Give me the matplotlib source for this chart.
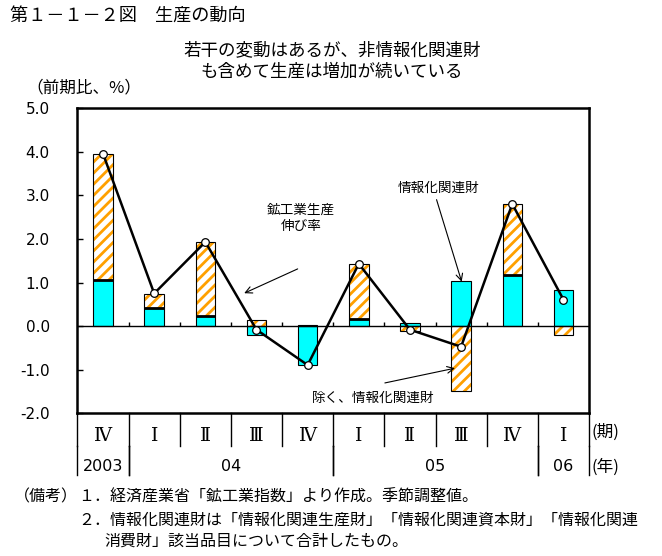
import matplotlib
matplotlib.use("Agg")
import matplotlib.pyplot as plt
import numpy as np

plt.rcParams['font.family'] = ['Noto Sans CJK JP', 'DejaVu Sans']
plt.rcParams['hatch.linewidth'] = 2.0

# ---- data ----
quarters = ["Ⅳ", "Ⅰ", "Ⅱ", "Ⅲ", "Ⅳ", "Ⅰ", "Ⅱ", "Ⅲ", "Ⅳ", "Ⅰ"]
years = ["2003", "04", "04", "04", "04", "05", "05", "05", "05", "06"]
it_goods = [1.06, 0.42, 0.24, -0.20, -0.89, 0.17, 0.07, 1.03, 1.18, 0.83]      # 情報化関連財
non_it = [2.89, 0.31, 1.69, 0.14, 0.02, 1.26, -0.11, -1.49, 1.62, -0.20]       # 除く、情報化関連財
production = [3.95, 0.75, 1.93, -0.08, -0.89, 1.43, -0.08, -0.47, 2.80, 0.61]  # 鉱工業生産伸び率
yticks = [5.0, 4.0, 3.0, 2.0, 1.0, 0.0, -1.0, -2.0]

CYAN = "#00FFFF"
ORANGE = "#FFA000"

fig = plt.figure(figsize=(6.62, 5.56), dpi=100)
ax = fig.add_axes([0.117, 0.2563, 0.7727, 0.5495])

x = np.arange(len(quarters))
w = 0.38
it = np.array(it_goods)
nit = np.array(non_it)
same = np.sign(it) == np.sign(nit)
bottoms = np.where(same, it, 0.0)

# cyan bars
ax.bar(x, it, width=w, color=CYAN, edgecolor="black", linewidth=0.8, zorder=2)
# hatched bars
ax.bar(x, nit, width=w, bottom=bottoms, color="white", edgecolor=ORANGE,
       hatch="///", linewidth=0, zorder=2)
ax.bar(x, nit, width=w, bottom=bottoms, color="none", edgecolor="black",
       linewidth=0.8, zorder=3)
# thick boundary between stacked segments
ax.hlines(it[same], x[same] - w / 2, x[same] + w / 2, colors="black",
          linewidth=2.0, zorder=4)

# zero line and its small ticks
ax.axhline(0, color="black", linewidth=1.0, zorder=3)
bounds = np.arange(len(quarters) + 1) - 0.5
ax.vlines(bounds[1:-1], 0, 0.1, colors="black", linewidth=1.0, zorder=3)

# production line
ax.plot(x, production, color="black", linewidth=1.8, zorder=5,
        marker="o", markersize=5.5, markerfacecolor="white",
        markeredgecolor="black", markeredgewidth=0.9)

ax.set_xlim(-0.5, len(quarters) - 0.5)
ax.set_ylim(-2.0, 5.0)
ax.set_yticks(yticks)
ax.set_yticklabels([f"{v:.1f}" for v in yticks], fontfamily="DejaVu Sans",
                   fontsize=11)
ax.tick_params(axis="y", direction="in", length=4.5, width=1.0, pad=20)
ax.set_xticks([])
for s in ax.spines.values():
    s.set_linewidth(1.8)

# table below axes
tr = ax.get_xaxis_transform()
row1 = -0.106
row2 = -0.201
for b in bounds:
    ax.plot([b, b], [0, row1], color="black", lw=1.0, transform=tr, clip_on=False)
groups = []
start = 0
for i in range(1, len(years) + 1):
    if i == len(years) or years[i] != years[start]:
        groups.append((start, i - 1, years[start]))
        start = i
for gs, ge, lab in groups:
    for b in (gs - 0.5, ge + 0.5):
        ax.plot([b, b], [row1, row2], color="black", lw=1.0, transform=tr,
                clip_on=False)
    ax.text((gs + ge) / 2, -0.172, lab, transform=tr, ha="center", va="center",
            fontsize=11.5, fontfamily="DejaVu Sans")
for i, q in enumerate(quarters):
    ax.text(i, -0.073, q, transform=tr, ha="center", va="center",
            fontsize=13.5, fontfamily=["DejaVu Serif", "Noto Sans CJK JP"])
ax.text(1.004, -0.061, "(期)", transform=ax.transAxes, ha="left", va="center",
        fontsize=12)
ax.text(1.004, -0.175, "(年)", transform=ax.transAxes, ha="left", va="center",
        fontsize=12)

# annotations
ax.annotate("", xy=(2.76, 0.756), xytext=(3.805, 1.313),
            arrowprops=dict(arrowstyle="->", color="black", lw=0.8,
                            shrinkA=0, shrinkB=0, mutation_scale=12))
ax.text(3.87, 2.48, "鉱工業生産\n伸び率", ha="center", va="center",
        fontsize=9.8, linespacing=1.15)
ax.annotate("", xy=(7.011, 1.02), xytext=(6.52, 2.90),
            arrowprops=dict(arrowstyle="->", color="black", lw=0.8,
                            shrinkA=0, shrinkB=0, mutation_scale=12))
ax.text(6.55, 3.17, "情報化関連財", ha="center", va="center", fontsize=9.8)
ax.annotate("", xy=(6.88, -0.962), xytext=(5.51, -1.30),
            arrowprops=dict(arrowstyle="->", color="black", lw=0.8,
                            shrinkA=0, shrinkB=0, mutation_scale=12))
ax.text(5.28, -1.65, "除く、情報化関連財", ha="center", va="center", fontsize=9.8)

# titles and notes (figure pixel coordinates)
W, H = 662, 556
def ft(px, py, s, **kw):
    fig.text(px / W, 1 - py / H, s, **kw)

ft(10, 17, "第１－１－２図　生産の動向", ha="left", va="center", fontsize=13.1)
ft(332, 50, "若干の変動はあるが、非情報化関連財", ha="center", va="center", fontsize=12.6)
ft(332, 72, "も含めて生産は増加が続いている", ha="center", va="center", fontsize=12.6)
ft(84, 88, "（前期比、%）", ha="center", va="center", fontsize=12)
ft(14, 497, "（備考）", ha="left", va="center", fontsize=11.5)
ft(78, 497, "１．経済産業省「鉱工業指数」より作成。季節調整値。", ha="left", va="center", fontsize=11.5)
ft(78, 520, "２．情報化関連財は「情報化関連生産財」「情報化関連資本財」「情報化関連",
   ha="left", va="center", fontsize=11.5)
ft(104, 541, "消費財」該当品目について合計したもの。", ha="left", va="center", fontsize=11.5)

fig.savefig("out.png", dpi=100)
